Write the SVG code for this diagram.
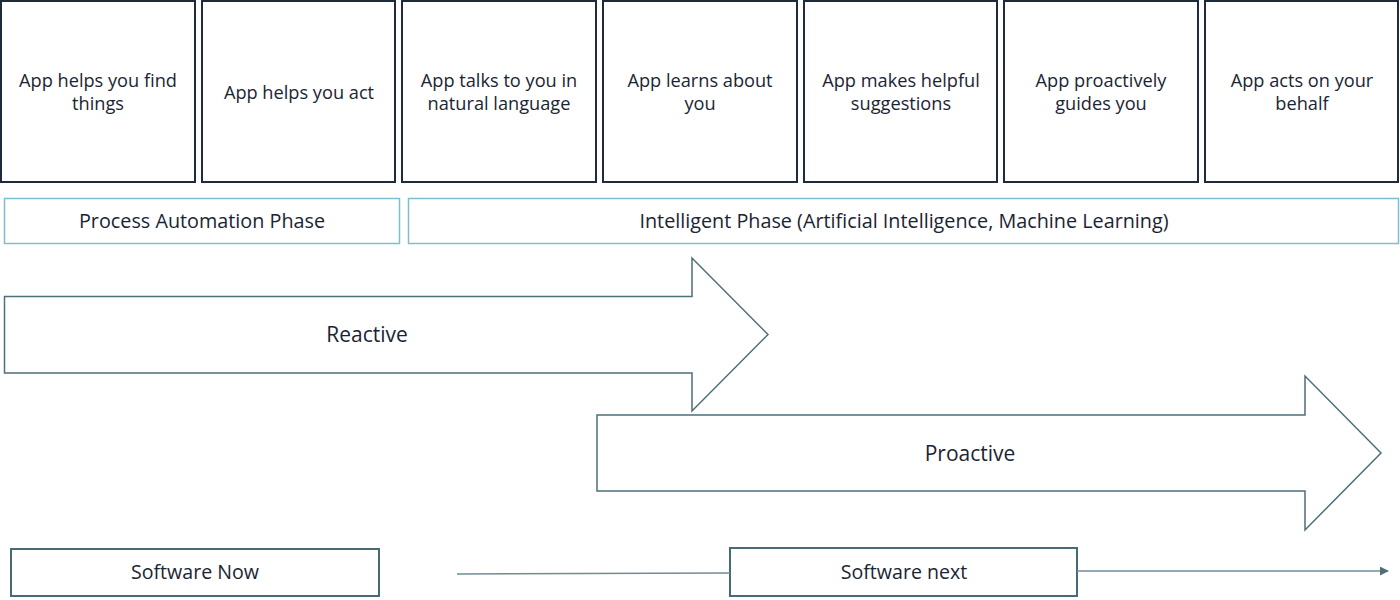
<svg xmlns="http://www.w3.org/2000/svg" width="1400" height="600" viewBox="0 0 1400 600">
<defs>
<style>
text{font-family:"Open Sans","Noto Sans","Liberation Sans",sans-serif;fill:#1b2433;text-anchor:middle}
.card{fill:#fff;stroke:#1f2a3a;stroke-width:2}
.card-t{font-size:18.2px}
.phase{fill:#fff;stroke:#7cc0cf;stroke-width:1.5}
.phase-t{font-size:19.8px}
.arrow{fill:#fff;stroke:#4d6f78;stroke-width:1.5}
.arrow-t{font-size:21px}
.sw{fill:#fff;stroke:#476b74;stroke-width:2}
.sw-t{font-size:19.6px}
.conn{stroke:#6f8d94;stroke-width:1.5;fill:none}
</style>
<marker id="ah" viewBox="0 0 10 10" refX="9" refY="5" markerWidth="6" markerHeight="6" orient="auto"><path d="M0,0 L10,5 L0,10 z" fill="#4d6f78"/></marker>
</defs>
<rect width="1400" height="600" fill="#fff"/>
<g id="card1"><rect class="card" x="1" y="1" width="194" height="181"/><text class="card-t" x="98" y="87">App helps you find</text><text class="card-t" x="98" y="110">things</text></g>
<g id="card2"><rect class="card" x="202" y="1" width="193" height="181"/><text class="card-t" x="299" y="99">App helps you act</text></g>
<g id="card3"><rect class="card" x="402" y="1" width="194" height="181"/><text class="card-t" x="499" y="87">App talks to you in</text><text class="card-t" x="499" y="110">natural language</text></g>
<g id="card4"><rect class="card" x="603" y="1" width="194" height="181"/><text class="card-t" x="700" y="87">App learns about</text><text class="card-t" x="700" y="110">you</text></g>
<g id="card5"><rect class="card" x="804" y="1" width="193" height="181"/><text class="card-t" x="901" y="87">App makes helpful</text><text class="card-t" x="901" y="110">suggestions</text></g>
<g id="card6"><rect class="card" x="1004" y="1" width="194" height="181"/><text class="card-t" x="1101" y="87">App proactively</text><text class="card-t" x="1101" y="110">guides you</text></g>
<g id="card7"><rect class="card" x="1205" y="1" width="193" height="181"/><text class="card-t" x="1302" y="87">App acts on your</text><text class="card-t" x="1302" y="110">behalf</text></g>
<g id="phase-process"><rect class="phase" x="4.5" y="198.5" width="395" height="45"/><text class="phase-t" x="202" y="228">Process Automation Phase</text></g>
<g id="phase-intelligent"><rect class="phase" x="408.5" y="198.5" width="990" height="45"/><text class="phase-t" x="904" y="228">Intelligent Phase (Artificial Intelligence, Machine Learning)</text></g>
<g id="reactive"><path class="arrow" d="M4.5,296.5 H692 V258 L768,334.5 L692,411 V373 H4.5 Z"/><text class="arrow-t" x="367" y="342">Reactive</text></g>
<g id="proactive"><path class="arrow" d="M597,415 H1305 V376 L1381,453 L1305,530 V491 H597 Z"/><text class="arrow-t" x="970" y="461">Proactive</text></g>
<g id="software-now"><rect class="sw" x="11" y="549" width="368" height="47"/><text class="sw-t" x="195" y="579">Software Now</text></g>
<g id="software-next"><rect class="sw" x="730" y="548" width="347" height="48"/><text class="sw-t" x="904" y="579">Software next</text></g>
<g id="connectors">
<line class="conn" x1="457" y1="574" x2="730" y2="573"/>
<line class="conn" x1="1077" y1="571" x2="1388" y2="571" marker-end="url(#ah)"/>
</g>
</svg>
